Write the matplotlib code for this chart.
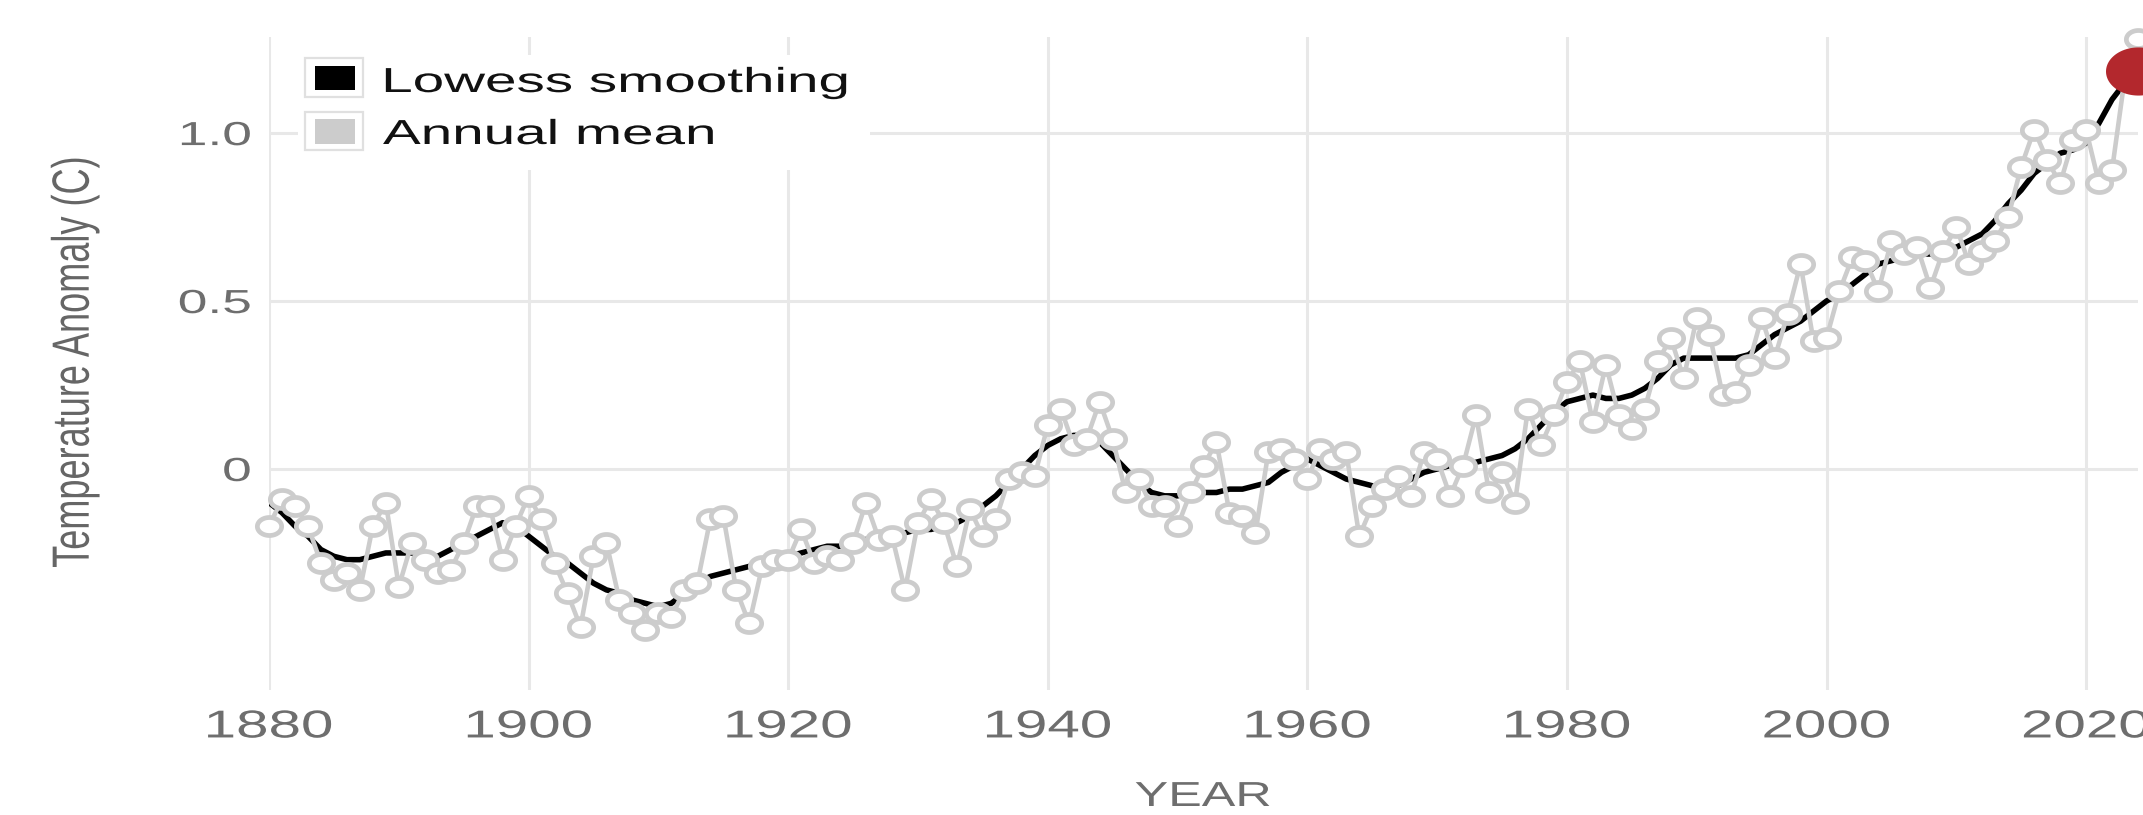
import numpy as np
import matplotlib
matplotlib.use("Agg")
import matplotlib.pyplot as plt
from matplotlib.path import Path
from matplotlib.patches import Rectangle
from matplotlib.patheffects import AbstractPathEffect
from matplotlib.transforms import Affine2D

# ---------------------------------------------------------------- data
years = list(range(1880, 2025))

annual_mean = [
    -0.17, -0.09, -0.11, -0.17, -0.28, -0.33, -0.31, -0.36, -0.17, -0.10,
    -0.35, -0.22, -0.27, -0.31, -0.30, -0.22, -0.11, -0.11, -0.27, -0.17,
    -0.08, -0.15, -0.28, -0.37, -0.47, -0.26, -0.22, -0.39, -0.43, -0.48,
    -0.43, -0.44, -0.36, -0.34, -0.15, -0.14, -0.36, -0.46, -0.29, -0.27,
    -0.27, -0.18, -0.28, -0.26, -0.27, -0.22, -0.10, -0.21, -0.20, -0.36,
    -0.16, -0.09, -0.16, -0.29, -0.12, -0.20, -0.15, -0.03, -0.01, -0.02,
    0.13, 0.18, 0.07, 0.09, 0.20, 0.09, -0.07, -0.03, -0.11, -0.11,
    -0.17, -0.07, 0.01, 0.08, -0.13, -0.14, -0.19, 0.05, 0.06, 0.03,
    -0.03, 0.06, 0.03, 0.05, -0.20, -0.11, -0.06, -0.02, -0.08, 0.05,
    0.03, -0.08, 0.01, 0.16, -0.07, -0.01, -0.10, 0.18, 0.07, 0.16,
    0.26, 0.32, 0.14, 0.31, 0.16, 0.12, 0.18, 0.32, 0.39, 0.27,
    0.45, 0.40, 0.22, 0.23, 0.31, 0.45, 0.33, 0.46, 0.61, 0.38,
    0.39, 0.53, 0.63, 0.62, 0.53, 0.68, 0.64, 0.66, 0.54, 0.65,
    0.72, 0.61, 0.65, 0.68, 0.75, 0.90, 1.01, 0.92, 0.85, 0.98,
    1.01, 0.85, 0.89, 1.17, 1.28,
]

lowess_smoothing = [
    -0.10, -0.13, -0.17, -0.20, -0.24, -0.26, -0.27, -0.27, -0.26, -0.25,
    -0.25, -0.25, -0.26, -0.26, -0.24, -0.22, -0.20, -0.18, -0.16, -0.17,
    -0.20, -0.23, -0.26, -0.28, -0.31, -0.34, -0.36, -0.37, -0.39, -0.40,
    -0.41, -0.40, -0.37, -0.34, -0.32, -0.31, -0.30, -0.29, -0.28, -0.27,
    -0.26, -0.25, -0.24, -0.23, -0.23, -0.22, -0.21, -0.20, -0.19, -0.19,
    -0.18, -0.18, -0.17, -0.16, -0.14, -0.11, -0.08, -0.04, 0.00, 0.04,
    0.07, 0.09, 0.10, 0.10, 0.08, 0.04, 0.00, -0.04, -0.07, -0.08,
    -0.08, -0.07, -0.07, -0.07, -0.06, -0.06, -0.05, -0.04, -0.01, 0.01,
    0.03, 0.01, -0.01, -0.03, -0.04, -0.05, -0.06, -0.05, -0.03, -0.01,
    0.00, 0.01, 0.01, 0.02, 0.03, 0.04, 0.06, 0.09, 0.13, 0.17,
    0.20, 0.21, 0.22, 0.21, 0.21, 0.22, 0.24, 0.27, 0.31, 0.33,
    0.33, 0.33, 0.33, 0.33, 0.34, 0.37, 0.40, 0.42, 0.44, 0.47,
    0.50, 0.52, 0.55, 0.58, 0.61, 0.62, 0.63, 0.64, 0.64, 0.65,
    0.66, 0.68, 0.70, 0.74, 0.79, 0.83, 0.88, 0.91, 0.94, 0.95,
    0.97, 1.03, 1.10, 1.15, 1.185,
]

x_ticks = [1880, 1900, 1920, 1940, 1960, 1980, 2000, 2020]
y_ticks = [0.0, 0.5, 1.0]
y_tick_labels = ["0", "0.5", "1.0"]
legend_labels = ["Lowess smoothing", "Annual mean"]

# ---------------------------------------------------------------- style
W, H, DPI = 2143, 815, 100
FONT = "Liberation Sans"
GREY_TEXT = "#6e6e6e"
GRID = "#e8e8e8"
ANNUAL_GREY = "#cccccc"
DOT_RED = "#b3282d"


class Widen(AbstractPathEffect):
    """Render glyphs widened by `factor` along one local axis, about an
    anchor given as a fraction of the ink extent."""

    def __init__(self, factor, anchor=0.5, axis="x"):
        super().__init__()
        self.factor = factor
        self.anchor = anchor
        self.axis = axis

    def draw_path(self, renderer, gc, tpath, affine, rgbFace=None):
        ext = tpath.get_extents()
        if self.axis == "x":
            a = ext.x0 + self.anchor * ext.width
            pre = Affine2D().translate(-a, 0).scale(self.factor, 1).translate(a, 0)
        else:
            a = ext.y0 + self.anchor * ext.height
            pre = Affine2D().translate(0, -a).scale(1, self.factor).translate(0, a)
        renderer.draw_path(gc, tpath, pre + affine, rgbFace)


def fx(px):
    return px / W


def fy(py):
    return 1 - py / H


# wide elliptical marker shape
theta = np.linspace(0, 2 * np.pi, 91)
ellipse = Path(np.column_stack([1.35 * np.cos(theta), np.sin(theta)]), closed=True)

fig = plt.figure(figsize=(W / DPI, H / DPI), dpi=DPI)
fig.patch.set_facecolor("white")
ax = fig.add_axes([fx(269), 1 - 690 / H, (2138 - 269) / W, (690 - 37) / H])

ax.set_xlim(1880, 2024)
ax.set_ylim(-0.658, 1.286)

# smoothed trend underneath the annual series
ax.plot(years, lowess_smoothing, color="black", lw=4.0, zorder=2,
        solid_capstyle="butt")
ax.plot(years, annual_mean, color=ANNUAL_GREY, lw=3.3, marker=ellipse,
        ms=17.5, mfc="white", mec=ANNUAL_GREY, mew=3.4, zorder=3,
        clip_on=False)
ax.plot([years[-1]], [lowess_smoothing[-1]], marker=ellipse, ms=46.8,
        color=DOT_RED, mec="none", ls="none", zorder=4, clip_on=False)

# axes styling
for s in ax.spines.values():
    s.set_visible(False)
ax.set_xticks(x_ticks, labels=[str(v) for v in x_ticks])
ax.set_yticks(y_ticks, labels=y_tick_labels)
ax.grid(True, color=GRID, lw=2.2)
ax.set_axisbelow(True)
ax.tick_params(axis="x", length=0, pad=14, labelsize=28, labelcolor=GREY_TEXT)
ax.tick_params(axis="y", length=0, pad=13, labelsize=24, labelcolor=GREY_TEXT)
for lbl in ax.get_xticklabels():
    lbl.set_fontfamily(FONT)
    lbl.set_path_effects([Widen(1.5, anchor=0.5)])
for lbl in ax.get_yticklabels():
    lbl.set_fontfamily(FONT)
    lbl.set_path_effects([Widen(1.6, anchor=1.0)])

# axis titles
fig.text(fx(75), fy(362), "Temperature Anomaly (C)", rotation=90,
         ha="center", va="center", fontsize=26, color="#666666",
         family=FONT, path_effects=[Widen(1.45, anchor=0.5, axis="y")])
fig.text(fx(1203), fy(806), "YEAR", ha="center", va="baseline",
         fontsize=25, color=GREY_TEXT, family=FONT,
         path_effects=[Widen(1.45, anchor=0.5)])

# legend panel
fig.add_artist(Rectangle((fx(298), fy(170)), (870 - 298) / W, (170 - 55) / H,
                         transform=fig.transFigure, facecolor="white",
                         edgecolor="none", zorder=1))
swatch_rows = [(58, 97, 66, 90, "black", 92), (112, 150, 119, 144, ANNUAL_GREY, 144)]
for (oy0, oy1, iy0, iy1, col, base), label in zip(swatch_rows, legend_labels):
    fig.add_artist(Rectangle((fx(305), fy(oy1)), 58 / W, (oy1 - oy0) / H,
                             transform=fig.transFigure, facecolor="white",
                             edgecolor="#e0e0e0", lw=1.6, zorder=2))
    fig.add_artist(Rectangle((fx(315), fy(iy1)), 40 / W, (iy1 - iy0) / H,
                             transform=fig.transFigure, facecolor=col,
                             edgecolor="none", zorder=3))
    fig.text(fx(383), fy(base), label, ha="left", va="baseline", fontsize=25,
             color="#111111", family=FONT, zorder=3,
             path_effects=[Widen(1.63, anchor=0.0)])

fig.savefig("out.png", dpi=DPI)
